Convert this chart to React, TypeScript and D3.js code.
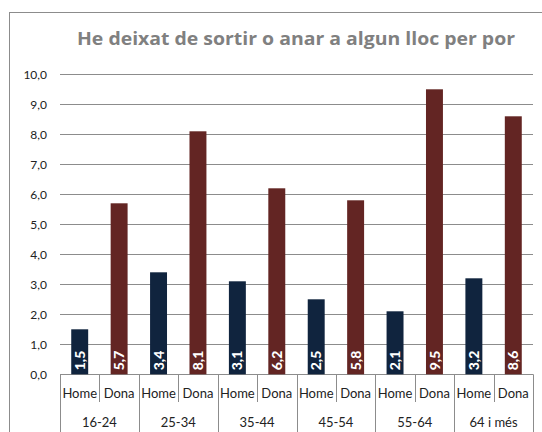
import React from "react";
import * as d3 from "d3";

const title = "He deixat de sortir o anar a algun lloc per por";
const ageGroups = ["16-24", "25-34", "35-44", "45-54", "55-64", "64 i més"];
const sexes = ["Home", "Dona"];
const homeValues = [1.5, 3.4, 3.1, 2.5, 2.1, 3.2];
const donaValues = [5.7, 8.1, 6.2, 5.8, 9.5, 8.6];
const yTicks = [0, 1, 2, 3, 4, 5, 6, 7, 8, 9, 10];

const colors: Record<string, string> = { Home: "#10243e", Dona: "#632523" };
const gridColor = "#8c8c8c";
const font = "Lato, 'Open Sans', sans-serif";

const fmt = (v: number) => v.toFixed(1).replace(".", ",");

const App = () => {
  const width = 542;
  const height = 432;
  const left = 60;
  const right = 533;
  const top = 74.3;
  const bottom = 374.3;

  const x = d3.scaleBand().domain(ageGroups).range([left, right]).padding(0);
  const xi = d3
    .scaleBand()
    .domain(sexes)
    .range([0, x.bandwidth()])
    .paddingInner(0.57)
    .paddingOuter(0.285);
  const y = d3.scaleLinear().domain([0, 10]).range([bottom, top]);

  const rows = ageGroups.map((g, i) => ({
    group: g,
    Home: homeValues[i],
    Dona: donaValues[i],
  }));

  const half = x.bandwidth() / 2;

  return (
    <svg
      width={width}
      height={height}
      style={{ position: "absolute", left: 0, top: 0, background: "#fff" }}
      fontFamily={font}
    >
      <rect x={9.5} y={12.5} width={600} height={500} fill="#fff" stroke={gridColor} />
      <text
        x={77}
        y={45}
        fontFamily="'Open Sans', sans-serif"
        fontSize={18}
        fontWeight="bold"
        fill="#808080"
        textLength={438}
        lengthAdjust="spacingAndGlyphs"
      >
        {title}
      </text>

      {/* gridlines + y labels */}
      {yTicks.map(t => (
        <g key={t}>
          <line x1={left} x2={right} y1={Math.round(y(t)) + 0.5} y2={Math.round(y(t)) + 0.5} stroke={gridColor} />
          <text x={47} y={y(t)} dy="0.35em" textAnchor="end" fontSize={12} fill="#222">
            {fmt(t)}
          </text>
        </g>
      ))}

      {/* bars */}
      {rows.map(r => (
        <g key={r.group} transform={`translate(${x(r.group)},0)`}>
          {sexes.map(s => {
            const v = (r as any)[s] as number;
            const bx = xi(s) as number;
            const cx = bx + xi.bandwidth() / 2;
            return (
              <g key={s}>
                <rect x={bx} y={y(v)} width={xi.bandwidth()} height={bottom - y(v)} fill={colors[s]} />
                <text
                  transform={`translate(${cx},${bottom - 4}) rotate(-90)`}
                  dy="0.36em"
                  fontSize={14}
                  fontWeight="900"
                  fill="#fff"
                >
                  {fmt(v)}
                </text>
              </g>
            );
          })}
        </g>
      ))}

      {/* category axis */}
      {ageGroups.map(g => {
        const gx = x(g) as number;
        return (
          <g key={g}>
            <line x1={Math.round(gx) + 0.5} x2={Math.round(gx) + 0.5} y1={bottom} y2={height} stroke={gridColor} />
            <line
              x1={Math.round(gx + half) + 0.5}
              x2={Math.round(gx + half) + 0.5}
              y1={bottom}
              y2={402}
              stroke={gridColor}
            />
            {sexes.map((s, j) => (
              <text key={s} x={gx + half * j + half / 2} y={398} textAnchor="middle" fontSize={13} fill="#222">
                {s}
              </text>
            ))}
            <text x={gx + half} y={427} textAnchor="middle" fontSize={13} fill="#222">
              {g}
            </text>
          </g>
        );
      })}
      <line x1={right + 0.5} x2={right + 0.5} y1={bottom} y2={height} stroke={gridColor} />
    </svg>
  );
};

export default App;
